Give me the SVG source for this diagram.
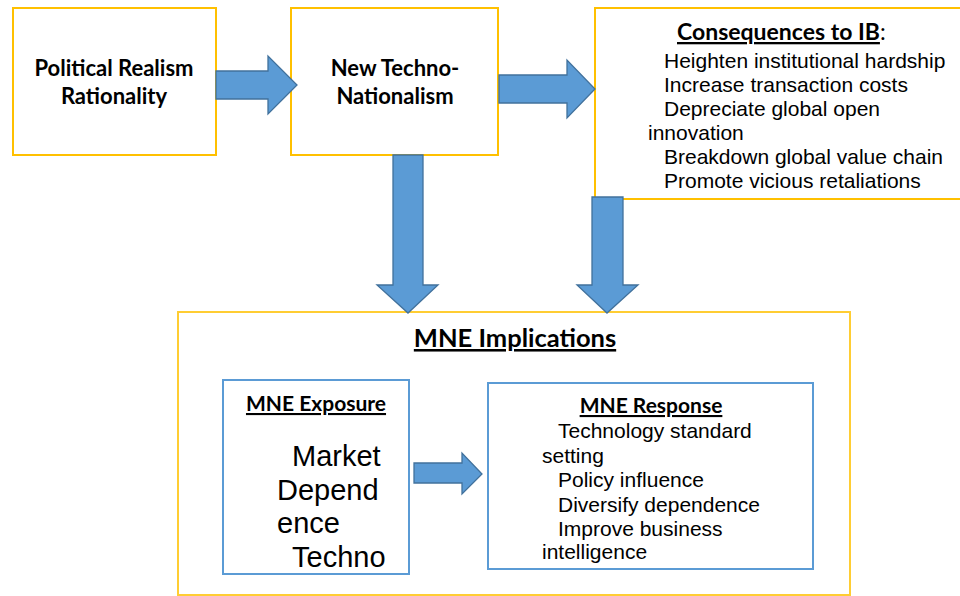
<svg xmlns="http://www.w3.org/2000/svg" width="960" height="596" viewBox="0 0 960 596">
<style>
.ybox{fill:#fff;stroke:#FFC000;stroke-width:2}
.bbox{fill:#fff;stroke:#5B9BD5;stroke-width:2}
.arr{fill:#5B9BD5;stroke:#41719C;stroke-width:1.3}
.hb{font-family:Lato,"Open Sans",sans-serif;font-weight:bold;fill:#000}
.tx{font-family:"Liberation Sans",Arial,sans-serif;fill:#000}
.u{text-decoration:underline}
</style>
<rect width="960" height="596" fill="#fff"/>
<g id="political-realism">
<rect class="ybox" x="13" y="8" width="203" height="147"/>
<text class="hb" font-size="22" text-anchor="middle"><tspan x="114" y="76">Political Realism</tspan><tspan x="114" y="104">Rationality</tspan></text>
</g>
<g id="techno-nationalism">
<rect class="ybox" x="291" y="8" width="207" height="147"/>
<text class="hb" font-size="22" text-anchor="middle"><tspan x="395" y="76">New Techno-</tspan><tspan x="395" y="104">Nationalism</tspan></text>
</g>
<g id="consequences">
<rect class="ybox" x="595" y="8" width="370" height="191"/>
<text class="hb" font-size="23" x="677" y="40"><tspan class="u">Consequences to IB</tspan><tspan font-weight="normal">:</tspan></text>
<text class="tx" font-size="21">
<tspan x="664" y="68">Heighten institutional hardship</tspan>
<tspan x="664" y="92">Increase transaction costs</tspan>
<tspan x="664" y="116">Depreciate global open</tspan>
<tspan x="648" y="140">innovation</tspan>
<tspan x="664" y="164">Breakdown global value chain</tspan>
<tspan x="664" y="188">Promote vicious retaliations</tspan>
</text>
</g>
<g id="mne-implications">
<rect class="ybox" x="178" y="312" width="672" height="283" stroke-opacity="0.8"/>
<text class="hb u" font-size="25.5" x="515" y="347" text-anchor="middle">MNE Implications</text>
</g>
<g id="mne-exposure">
<rect class="bbox" x="223" y="380" width="186" height="194"/>
<text class="hb u" font-size="21" x="316" y="411" text-anchor="middle">MNE Exposure</text>
<text class="tx" font-size="29">
<tspan x="292" y="466">Market</tspan>
<tspan x="277" y="500">Depend</tspan>
<tspan x="277" y="533">ence</tspan>
<tspan x="292" y="567">Techno</tspan>
</text>
</g>
<g id="mne-response">
<rect class="bbox" x="488" y="383" width="325" height="186"/>
<text class="hb u" font-size="21" x="651" y="413" text-anchor="middle">MNE Response</text>
<text class="tx" font-size="21">
<tspan x="558" y="438">Technology standard</tspan>
<tspan x="542" y="463">setting</tspan>
<tspan x="558" y="487">Policy influence</tspan>
<tspan x="558" y="512">Diversify dependence</tspan>
<tspan x="558" y="536">Improve business</tspan>
<tspan x="542" y="559">intelligence</tspan>
</text>
</g>
<g id="connectors">
<polygon class="arr" points="216,71 268,71 268,56 297,85 268,114 268,99 216,99"/>
<polygon class="arr" points="499,75 567,75 567,60 595,89 567,118 567,103 499,103"/>
<polygon class="arr" points="393,155 423,155 423,285 438,285 408,313 377,285 393,285"/>
<polygon class="arr" points="592,197 623,197 623,285 638,285 607,313 577,285 592,285"/>
<polygon class="arr" points="414,463 462,463 462,453 482,474 462,494 462,483 414,483"/>
</g>
</svg>
